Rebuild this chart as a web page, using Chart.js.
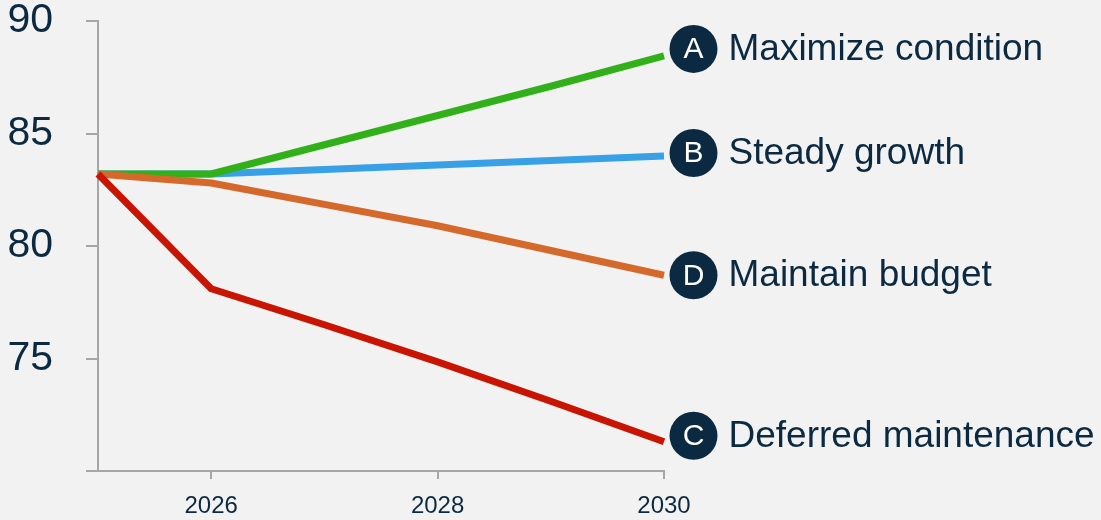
<!DOCTYPE html>
<html>
<head>
<meta charset="utf-8">
<script src="https://cdn.jsdelivr.net/npm/chart.js@4.4.1/dist/chart.umd.min.js"></script>
<style>
  html, body { margin: 0; padding: 0; background: #f2f2f2; }
  #wrap { width: 1101px; height: 520px; position: relative; }
</style>
</head>
<body>
<div id="wrap"><canvas id="scenarioChart"></canvas></div>
<script>
// Scenario data (condition index by year)
const years = [2025, 2026, 2027, 2028, 2029, 2030];
const maximizeCondition = [83.2, 83.2, 84.5, 85.8, 87.1, 88.45];
const steadyGrowth = [83.2, 83.2, 83.4, 83.6, 83.8, 84.0];
const maintainBudget = [83.2, 82.8, 81.85, 80.9, 79.8, 78.7];
const deferredMaintenance = [83.2, 78.1, 76.5, 74.85, 73.1, 71.3];

const scenarioNames = ['Maximize condition', 'Steady growth', 'Maintain budget', 'Deferred maintenance'];
const scenarioLetters = ['A', 'B', 'D', 'C'];
const xTickValues = [2026, 2028, 2030];
const yTickValues = [70, 75, 80, 85, 90];

const NAVY = '#0b2a42';
const AXIS = '#a6a6a6';

function toPoints(values) {
    return values.map(function(v, i) { return { x: years[i], y: v }; });
}

// Circle badge + label at the end of each line
const endLabels = {
    id: 'endLabels',
    afterDatasetsDraw: function(chart) {
        const ctx = chart.ctx;
        const nudge = [-7, -3, 0, -6];
        chart.data.datasets.forEach(function(ds, i) {
            const meta = chart.getDatasetMeta(i);
            const last = meta.data[meta.data.length - 1];
            const cx = last.x + 29.5;
            const cy = last.y + nudge[i];
            ctx.save();
            ctx.beginPath();
            ctx.arc(cx, cy, 24, 0, Math.PI * 2);
            ctx.fillStyle = NAVY;
            ctx.fill();
            ctx.fillStyle = '#ffffff';
            ctx.font = '30px "Liberation Sans", Arial, sans-serif';
            ctx.textAlign = 'center';
            ctx.textBaseline = 'middle';
            ctx.fillText(scenarioLetters[i], cx, cy + 1);
            ctx.fillStyle = NAVY;
            ctx.font = '37px "Liberation Sans", Arial, sans-serif';
            ctx.textAlign = 'left';
            ctx.fillText(scenarioNames[i], cx + 35, cy + 1);
            ctx.restore();
        });
    }
};

const ctx = document.getElementById('scenarioChart').getContext('2d');
new Chart(ctx, {
    type: 'line',
    data: {
        datasets: [
            { label: scenarioNames[0], data: toPoints(maximizeCondition), borderColor: '#32b01a', order: 2 },
            { label: scenarioNames[1], data: toPoints(steadyGrowth), borderColor: '#38a0e6', order: 3 },
            { label: scenarioNames[2], data: toPoints(maintainBudget), borderColor: '#d4692b', order: 1 },
            { label: scenarioNames[3], data: toPoints(deferredMaintenance), borderColor: '#c81400', order: 0 }
        ]
    },
    options: {
        responsive: true,
        maintainAspectRatio: false,
        animation: false,
        layout: { padding: { top: 21, right: 437, left: 0, bottom: 0 } },
        elements: {
            line: { borderWidth: 7, tension: 0, fill: false, borderCapStyle: 'butt', borderJoinStyle: 'round' },
            point: { radius: 0, hoverRadius: 0 }
        },
        datasets: { line: { clip: false } },
        plugins: {
            legend: { display: false },
            tooltip: { enabled: false }
        },
        scales: {
            x: {
                type: 'linear',
                min: 2025,
                max: 2030,
                afterBuildTicks: function(scale) {
                    scale.ticks = xTickValues.map(function(v) { return { value: v }; });
                },
                afterFit: function(scale) {
                    scale.height = 49;
                    scale.paddingLeft = 0;
                    scale.paddingRight = 0;
                },
                grid: { drawOnChartArea: false, drawTicks: true, tickLength: 8, color: AXIS, lineWidth: 2 },
                border: { display: true, color: AXIS, width: 2 },
                ticks: {
                    color: NAVY,
                    padding: 13,
                    maxRotation: 0,
                    font: { family: '"Liberation Sans", Arial, sans-serif', size: 24 },
                    callback: function(v) { return String(v); }
                }
            },
            y: {
                min: 70,
                max: 90,
                afterBuildTicks: function(scale) {
                    scale.ticks = yTickValues.map(function(v) { return { value: v }; });
                },
                afterFit: function(scale) {
                    scale.width = 98;
                    scale.paddingTop = 0;
                    scale.paddingBottom = 0;
                },
                grid: { drawOnChartArea: false, drawTicks: true, tickLength: 12, color: AXIS, lineWidth: 2 },
                border: { display: true, color: AXIS, width: 2 },
                ticks: {
                    color: NAVY,
                    padding: 33,
                    font: { family: '"Liberation Sans", Arial, sans-serif', size: 41 },
                    callback: function(v) { return v === 70 ? '' : String(v); }
                }
            }
        }
    },
    plugins: [endLabels]
});
</script>
</body>
</html>
